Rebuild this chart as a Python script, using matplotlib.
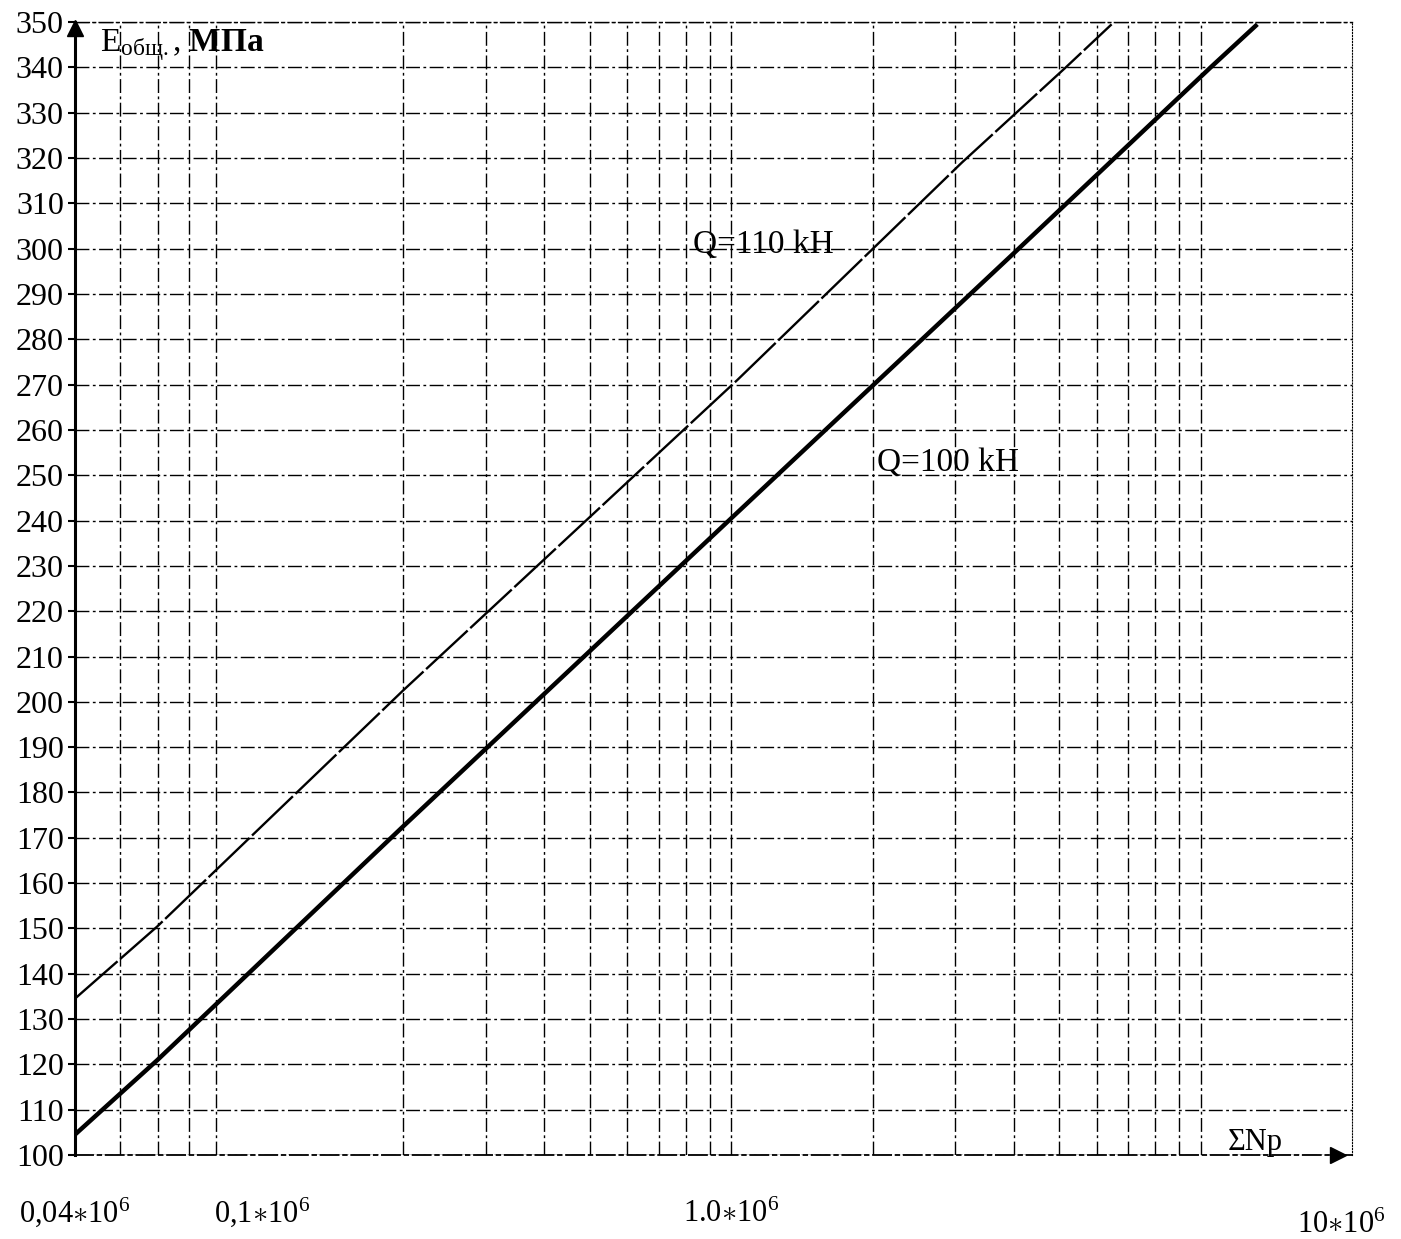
import matplotlib
matplotlib.use('Agg')
import matplotlib.pyplot as plt
from matplotlib.ticker import FixedLocator, FixedFormatter

plt.rcParams['font.family'] = ['Liberation Serif', 'DejaVu Serif']
plt.rcParams['mathtext.fontset'] = 'custom'
plt.rcParams['mathtext.rm'] = 'Liberation Serif'
plt.rcParams['mathtext.it'] = 'Liberation Serif:italic'
plt.rcParams['mathtext.bf'] = 'Liberation Serif:bold'

# --- data ---
n_q100 = [0.04e6, 0.06e6, 0.2e6, 1.0e6, 4.0e6, 10.5e6, 13.2e6]
e_q100 = [104.5, 121, 172.5, 240.5, 299, 340, 349.5]

n_q110 = [0.04e6, 0.06e6, 0.2e6, 1.03e6, 3.1e6, 5.16e6, 6.46e6]
e_q110 = [134.5, 150.5, 202.5, 271, 319, 340, 349.5]

e_ticks = list(range(100, 351, 10))
x_label_ticks = [0.04e6, 0.1e6, 1.0e6]
x_label_text = [r'0,04$\ast$10$^6$', r'0,1$\ast$10$^6$', r'1.0$\ast$10$^6$']
x_grid = [0.05e6, 0.06e6, 0.07e6, 0.08e6,
          0.2e6, 0.3e6, 0.4e6, 0.5e6, 0.6e6, 0.7e6, 0.8e6, 0.9e6, 1.0e6,
          2e6, 3e6, 4e6, 5e6, 6e6, 7e6, 8e6, 9e6, 10e6]

grid_ls = (0, (10, 2.5, 2, 2.5))

fig = plt.figure(figsize=(14.01, 12.39), dpi=100)
ax = fig.add_axes([0.0535, 0.0678, 0.9115, 0.9144])

ax.set_xscale('log')
ax.set_xlim(0.04e6, 21e6)
ax.set_ylim(100, 350)

ax.plot(n_q110, e_q110, color='black', linewidth=1.7, linestyle=(0, (24, 1.5)))
ax.plot(n_q100, e_q100, color='black', linewidth=3.2, solid_capstyle='butt')

# grid
ax.set_yticks(e_ticks)
ax.yaxis.grid(True, which='major', color='black', linewidth=1.0, linestyle=grid_ls)
ax.xaxis.set_major_locator(FixedLocator(x_label_ticks))
ax.xaxis.set_major_formatter(FixedFormatter(x_label_text))
ax.xaxis.set_minor_locator(FixedLocator(x_grid))
ax.xaxis.set_minor_formatter(FixedFormatter([''] * len(x_grid)))
ax.xaxis.remove_overlapping_locs = False
ax.xaxis.grid(True, which='minor', color='black', linewidth=1.0, linestyle=grid_ls)
ax.xaxis.grid(False, which='major')

ax.tick_params(axis='x', which='both', length=0, pad=48, labelsize=22)
ax.tick_params(axis='y', which='major', length=5, width=1.5, direction='out',
               pad=3, labelsize=23)

for lab in ax.get_xticklabels():
    lab.set_horizontalalignment('center')
    lab.set_verticalalignment('baseline')

ax.annotate(r'10$\ast$10$^6$', xy=(0.992, 0), xycoords='axes fraction',
            xytext=(0, -56), textcoords='offset points',
            ha='center', va='baseline', fontsize=22)

# spines
ax.spines['left'].set_linewidth(2.2)
ax.spines['bottom'].set_linewidth(1.3)
ax.spines['bottom'].set_linestyle(grid_ls)
ax.spines['top'].set_linewidth(1.0)
ax.spines['top'].set_linestyle(grid_ls)
ax.spines['right'].set_linewidth(0.8)
ax.spines['right'].set_linestyle(':')

# axis arrows
ax.plot([0], [0.995], marker='^', color='black', markersize=11,
        transform=ax.transAxes, clip_on=False)
ax.plot([0.989], [0], marker='>', color='black', markersize=11,
        transform=ax.transAxes, clip_on=False)

# labels
ax.text(0.0452e6, 343.5, r'E$_{\mathrm{общ.}}$, $\mathbf{МПа}$', fontsize=24,
        va='baseline', ha='left')
ax.text(0.83e6, 299, 'Q=110 kH', fontsize=24, va='baseline', ha='left')
ax.text(2.04e6, 251, 'Q=100 kH', fontsize=24, va='baseline', ha='left')
ax.text(11.4e6, 101.2, 'ΣNp', fontsize=22, va='baseline', ha='left')

fig.savefig('out.png', dpi=100)
plt.close(fig)
